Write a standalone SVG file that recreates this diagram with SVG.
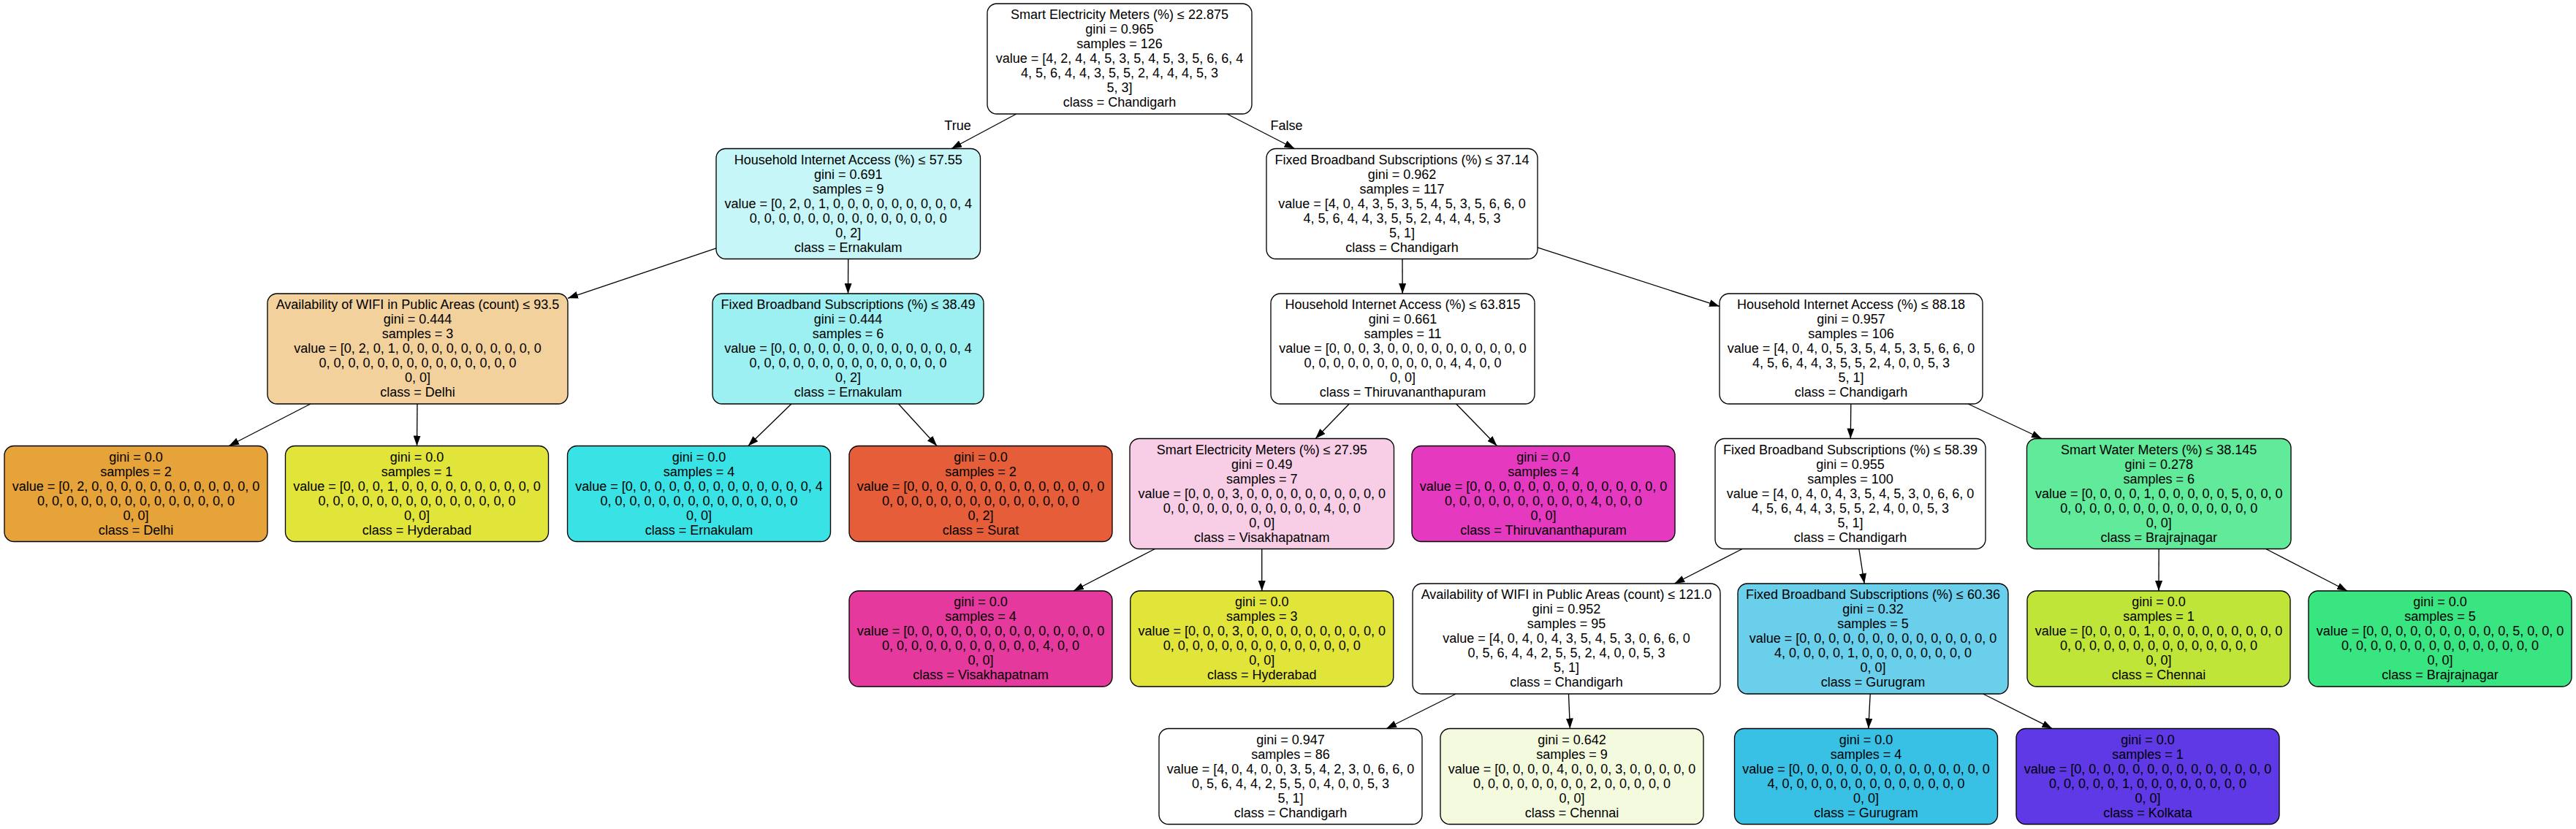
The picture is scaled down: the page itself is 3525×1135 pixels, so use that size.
<svg xmlns="http://www.w3.org/2000/svg" width="3525" height="1135" viewBox="0 0 3525 1135">
<style>
.n rect{stroke:#000;stroke-width:1.33}
text{font-family:"Liberation Sans",Arial,Helvetica,sans-serif;font-size:18px;fill:#000;text-anchor:middle}
.e line{stroke:#000;stroke-width:1.33;fill:none;marker-end:url(#ah)}
</style>
<defs>
<marker id="ah" viewBox="0 0 14 10" refX="14" refY="5" markerWidth="14" markerHeight="10" markerUnits="userSpaceOnUse" orient="auto">
<path d="M0,0 L14,5 L0,10 z" fill="#000"/>
</marker>
</defs>
<rect width="3525" height="1135" fill="#fff"/>
<g id="edges" class="e">
<line x1="1390.8" y1="156" x2="1302" y2="203.5"/>
<line x1="1679" y1="156" x2="1771.5" y2="203.5"/>
<line x1="980" y1="339.9" x2="777" y2="408.3"/>
<line x1="1160.7" y1="354.5" x2="1160.5" y2="402"/>
<line x1="424.9" y1="553" x2="313.2" y2="610.5"/>
<line x1="571" y1="553" x2="570.5" y2="610.5"/>
<line x1="1082.9" y1="553" x2="1023.8" y2="610.5"/>
<line x1="1229.5" y1="553" x2="1282.1" y2="610.5"/>
<line x1="1919" y1="354.5" x2="1919.2" y2="402"/>
<line x1="2104" y1="338.9" x2="2353" y2="419.4"/>
<line x1="1846.2" y1="553" x2="1800.1" y2="600.5"/>
<line x1="1992.7" y1="553" x2="2048.5" y2="610.5"/>
<line x1="1580.4" y1="751.5" x2="1469" y2="809"/>
<line x1="1726.75" y1="751.5" x2="1726.75" y2="809"/>
<line x1="2532.8" y1="553" x2="2532.3" y2="600.5"/>
<line x1="2693.2" y1="553" x2="2794" y2="600.5"/>
<line x1="2384.2" y1="751.5" x2="2291.3" y2="799"/>
<line x1="2543.8" y1="751.5" x2="2551.2" y2="799"/>
<line x1="1992.3" y1="950" x2="1897.2" y2="997.5"/>
<line x1="2146.5" y1="950" x2="2148.4" y2="997.5"/>
<line x1="2559.2" y1="950" x2="2556.8" y2="997.5"/>
<line x1="2713.6" y1="950" x2="2808.3" y2="997.5"/>
<line x1="2954.2" y1="751.5" x2="2954" y2="809"/>
<line x1="3100.6" y1="751.5" x2="3212" y2="809"/>
</g>
<g id="edge-labels">
<text x="1310.5" y="177.5">True</text>
<text x="1760.5" y="177.5">False</text>
</g>
<g id="n0" class="n"><rect x="1351" y="5" width="362" height="151" rx="13" fill="#ffffff"/>
<text x="1532" y="26">Smart Electricity Meters (%) ≤ 22.875<tspan x="1532" dy="20">gini = 0.965</tspan><tspan x="1532" dy="20">samples = 126</tspan><tspan x="1532" dy="20">value = [4, 2, 4, 4, 5, 3, 5, 4, 5, 3, 5, 6, 6, 4</tspan><tspan x="1532" dy="20">4, 5, 6, 4, 4, 3, 5, 5, 2, 4, 4, 4, 5, 3</tspan><tspan x="1532" dy="20">5, 3]</tspan><tspan x="1532" dy="20">class = Chandigarh</tspan></text></g>
<g id="n1" class="n"><rect x="980" y="203.5" width="361.5" height="151" rx="13" fill="#c6f6f7"/>
<text x="1160.75" y="224.5">Household Internet Access (%) ≤ 57.55<tspan x="1160.75" dy="20">gini = 0.691</tspan><tspan x="1160.75" dy="20">samples = 9</tspan><tspan x="1160.75" dy="20">value = [0, 2, 0, 1, 0, 0, 0, 0, 0, 0, 0, 0, 0, 4</tspan><tspan x="1160.75" dy="20">0, 0, 0, 0, 0, 0, 0, 0, 0, 0, 0, 0, 0, 0</tspan><tspan x="1160.75" dy="20">0, 2]</tspan><tspan x="1160.75" dy="20">class = Ernakulam</tspan></text></g>
<g id="n2" class="n"><rect x="366" y="402" width="411" height="151" rx="13" fill="#f2d19c"/>
<text x="571.5" y="423">Availability of WIFI in Public Areas (count) ≤ 93.5<tspan x="571.5" dy="20">gini = 0.444</tspan><tspan x="571.5" dy="20">samples = 3</tspan><tspan x="571.5" dy="20">value = [0, 2, 0, 1, 0, 0, 0, 0, 0, 0, 0, 0, 0, 0</tspan><tspan x="571.5" dy="20">0, 0, 0, 0, 0, 0, 0, 0, 0, 0, 0, 0, 0, 0</tspan><tspan x="571.5" dy="20">0, 0]</tspan><tspan x="571.5" dy="20">class = Delhi</tspan></text></g>
<g id="n3" class="n"><rect x="6" y="610.5" width="360" height="131" rx="13" fill="#e5a339"/>
<text x="186" y="631.5">gini = 0.0<tspan x="186" dy="20">samples = 2</tspan><tspan x="186" dy="20">value = [0, 2, 0, 0, 0, 0, 0, 0, 0, 0, 0, 0, 0, 0</tspan><tspan x="186" dy="20">0, 0, 0, 0, 0, 0, 0, 0, 0, 0, 0, 0, 0, 0</tspan><tspan x="186" dy="20">0, 0]</tspan><tspan x="186" dy="20">class = Delhi</tspan></text></g>
<g id="n4" class="n"><rect x="390.5" y="610.5" width="360" height="131" rx="13" fill="#e2e539"/>
<text x="570.5" y="631.5">gini = 0.0<tspan x="570.5" dy="20">samples = 1</tspan><tspan x="570.5" dy="20">value = [0, 0, 0, 1, 0, 0, 0, 0, 0, 0, 0, 0, 0, 0</tspan><tspan x="570.5" dy="20">0, 0, 0, 0, 0, 0, 0, 0, 0, 0, 0, 0, 0, 0</tspan><tspan x="570.5" dy="20">0, 0]</tspan><tspan x="570.5" dy="20">class = Hyderabad</tspan></text></g>
<g id="n5" class="n"><rect x="975" y="402" width="371" height="151" rx="13" fill="#9cf0f2"/>
<text x="1160.5" y="423">Fixed Broadband Subscriptions (%) ≤ 38.49<tspan x="1160.5" dy="20">gini = 0.444</tspan><tspan x="1160.5" dy="20">samples = 6</tspan><tspan x="1160.5" dy="20">value = [0, 0, 0, 0, 0, 0, 0, 0, 0, 0, 0, 0, 0, 4</tspan><tspan x="1160.5" dy="20">0, 0, 0, 0, 0, 0, 0, 0, 0, 0, 0, 0, 0, 0</tspan><tspan x="1160.5" dy="20">0, 2]</tspan><tspan x="1160.5" dy="20">class = Ernakulam</tspan></text></g>
<g id="n6" class="n"><rect x="776.5" y="610.5" width="360" height="131" rx="13" fill="#39e2e5"/>
<text x="956.5" y="631.5">gini = 0.0<tspan x="956.5" dy="20">samples = 4</tspan><tspan x="956.5" dy="20">value = [0, 0, 0, 0, 0, 0, 0, 0, 0, 0, 0, 0, 0, 4</tspan><tspan x="956.5" dy="20">0, 0, 0, 0, 0, 0, 0, 0, 0, 0, 0, 0, 0, 0</tspan><tspan x="956.5" dy="20">0, 0]</tspan><tspan x="956.5" dy="20">class = Ernakulam</tspan></text></g>
<g id="n7" class="n"><rect x="1162" y="610.5" width="360" height="131" rx="13" fill="#e55e39"/>
<text x="1342" y="631.5">gini = 0.0<tspan x="1342" dy="20">samples = 2</tspan><tspan x="1342" dy="20">value = [0, 0, 0, 0, 0, 0, 0, 0, 0, 0, 0, 0, 0, 0</tspan><tspan x="1342" dy="20">0, 0, 0, 0, 0, 0, 0, 0, 0, 0, 0, 0, 0, 0</tspan><tspan x="1342" dy="20">0, 2]</tspan><tspan x="1342" dy="20">class = Surat</tspan></text></g>
<g id="n8" class="n"><rect x="1733" y="203.5" width="371" height="151" rx="13" fill="#ffffff"/>
<text x="1918.5" y="224.5">Fixed Broadband Subscriptions (%) ≤ 37.14<tspan x="1918.5" dy="20">gini = 0.962</tspan><tspan x="1918.5" dy="20">samples = 117</tspan><tspan x="1918.5" dy="20">value = [4, 0, 4, 3, 5, 3, 5, 4, 5, 3, 5, 6, 6, 0</tspan><tspan x="1918.5" dy="20">4, 5, 6, 4, 4, 3, 5, 5, 2, 4, 4, 4, 5, 3</tspan><tspan x="1918.5" dy="20">5, 1]</tspan><tspan x="1918.5" dy="20">class = Chandigarh</tspan></text></g>
<g id="n9" class="n"><rect x="1739" y="402" width="361" height="151" rx="13" fill="#ffffff"/>
<text x="1919.5" y="423">Household Internet Access (%) ≤ 63.815<tspan x="1919.5" dy="20">gini = 0.661</tspan><tspan x="1919.5" dy="20">samples = 11</tspan><tspan x="1919.5" dy="20">value = [0, 0, 0, 3, 0, 0, 0, 0, 0, 0, 0, 0, 0, 0</tspan><tspan x="1919.5" dy="20">0, 0, 0, 0, 0, 0, 0, 0, 0, 0, 4, 4, 0, 0</tspan><tspan x="1919.5" dy="20">0, 0]</tspan><tspan x="1919.5" dy="20">class = Thiruvananthapuram</tspan></text></g>
<g id="n10" class="n"><rect x="1546" y="600.5" width="361.5" height="151" rx="13" fill="#f8cde6"/>
<text x="1726.75" y="621.5">Smart Electricity Meters (%) ≤ 27.95<tspan x="1726.75" dy="20">gini = 0.49</tspan><tspan x="1726.75" dy="20">samples = 7</tspan><tspan x="1726.75" dy="20">value = [0, 0, 0, 3, 0, 0, 0, 0, 0, 0, 0, 0, 0, 0</tspan><tspan x="1726.75" dy="20">0, 0, 0, 0, 0, 0, 0, 0, 0, 0, 0, 4, 0, 0</tspan><tspan x="1726.75" dy="20">0, 0]</tspan><tspan x="1726.75" dy="20">class = Visakhapatnam</tspan></text></g>
<g id="n11" class="n"><rect x="1162" y="809" width="360" height="131" rx="13" fill="#e5399d"/>
<text x="1342" y="830">gini = 0.0<tspan x="1342" dy="20">samples = 4</tspan><tspan x="1342" dy="20">value = [0, 0, 0, 0, 0, 0, 0, 0, 0, 0, 0, 0, 0, 0</tspan><tspan x="1342" dy="20">0, 0, 0, 0, 0, 0, 0, 0, 0, 0, 0, 4, 0, 0</tspan><tspan x="1342" dy="20">0, 0]</tspan><tspan x="1342" dy="20">class = Visakhapatnam</tspan></text></g>
<g id="n12" class="n"><rect x="1546.75" y="809" width="360" height="131" rx="13" fill="#e2e539"/>
<text x="1726.75" y="830">gini = 0.0<tspan x="1726.75" dy="20">samples = 3</tspan><tspan x="1726.75" dy="20">value = [0, 0, 0, 3, 0, 0, 0, 0, 0, 0, 0, 0, 0, 0</tspan><tspan x="1726.75" dy="20">0, 0, 0, 0, 0, 0, 0, 0, 0, 0, 0, 0, 0, 0</tspan><tspan x="1726.75" dy="20">0, 0]</tspan><tspan x="1726.75" dy="20">class = Hyderabad</tspan></text></g>
<g id="n13" class="n"><rect x="1932" y="610.5" width="360" height="131" rx="13" fill="#e539c0"/>
<text x="2112" y="631.5">gini = 0.0<tspan x="2112" dy="20">samples = 4</tspan><tspan x="2112" dy="20">value = [0, 0, 0, 0, 0, 0, 0, 0, 0, 0, 0, 0, 0, 0</tspan><tspan x="2112" dy="20">0, 0, 0, 0, 0, 0, 0, 0, 0, 0, 4, 0, 0, 0</tspan><tspan x="2112" dy="20">0, 0]</tspan><tspan x="2112" dy="20">class = Thiruvananthapuram</tspan></text></g>
<g id="n14" class="n"><rect x="2353" y="402" width="360" height="151" rx="13" fill="#ffffff"/>
<text x="2533" y="423">Household Internet Access (%) ≤ 88.18<tspan x="2533" dy="20">gini = 0.957</tspan><tspan x="2533" dy="20">samples = 106</tspan><tspan x="2533" dy="20">value = [4, 0, 4, 0, 5, 3, 5, 4, 5, 3, 5, 6, 6, 0</tspan><tspan x="2533" dy="20">4, 5, 6, 4, 4, 3, 5, 5, 2, 4, 0, 0, 5, 3</tspan><tspan x="2533" dy="20">5, 1]</tspan><tspan x="2533" dy="20">class = Chandigarh</tspan></text></g>
<g id="n15" class="n"><rect x="2347" y="600.5" width="370" height="151" rx="13" fill="#ffffff"/>
<text x="2532" y="621.5">Fixed Broadband Subscriptions (%) ≤ 58.39<tspan x="2532" dy="20">gini = 0.955</tspan><tspan x="2532" dy="20">samples = 100</tspan><tspan x="2532" dy="20">value = [4, 0, 4, 0, 4, 3, 5, 4, 5, 3, 0, 6, 6, 0</tspan><tspan x="2532" dy="20">4, 5, 6, 4, 4, 3, 5, 5, 2, 4, 0, 0, 5, 3</tspan><tspan x="2532" dy="20">5, 1]</tspan><tspan x="2532" dy="20">class = Chandigarh</tspan></text></g>
<g id="n16" class="n"><rect x="1933" y="799" width="421" height="151" rx="13" fill="#ffffff"/>
<text x="2143.5" y="820">Availability of WIFI in Public Areas (count) ≤ 121.0<tspan x="2143.5" dy="20">gini = 0.952</tspan><tspan x="2143.5" dy="20">samples = 95</tspan><tspan x="2143.5" dy="20">value = [4, 0, 4, 0, 4, 3, 5, 4, 5, 3, 0, 6, 6, 0</tspan><tspan x="2143.5" dy="20">0, 5, 6, 4, 4, 2, 5, 5, 2, 4, 0, 0, 5, 3</tspan><tspan x="2143.5" dy="20">5, 1]</tspan><tspan x="2143.5" dy="20">class = Chandigarh</tspan></text></g>
<g id="n17" class="n"><rect x="1586" y="997.5" width="360" height="131" rx="13" fill="#ffffff"/>
<text x="1766" y="1018.5">gini = 0.947<tspan x="1766" dy="20">samples = 86</tspan><tspan x="1766" dy="20">value = [4, 0, 4, 0, 0, 3, 5, 4, 2, 3, 0, 6, 6, 0</tspan><tspan x="1766" dy="20">0, 5, 6, 4, 4, 2, 5, 5, 0, 4, 0, 0, 5, 3</tspan><tspan x="1766" dy="20">5, 1]</tspan><tspan x="1766" dy="20">class = Chandigarh</tspan></text></g>
<g id="n18" class="n"><rect x="1971" y="997.5" width="360" height="131" rx="13" fill="#f4fade"/>
<text x="2151" y="1018.5">gini = 0.642<tspan x="2151" dy="20">samples = 9</tspan><tspan x="2151" dy="20">value = [0, 0, 0, 0, 4, 0, 0, 0, 3, 0, 0, 0, 0, 0</tspan><tspan x="2151" dy="20">0, 0, 0, 0, 0, 0, 0, 0, 2, 0, 0, 0, 0, 0</tspan><tspan x="2151" dy="20">0, 0]</tspan><tspan x="2151" dy="20">class = Chennai</tspan></text></g>
<g id="n19" class="n"><rect x="2378" y="799" width="370" height="151" rx="13" fill="#6acfeb"/>
<text x="2563" y="820">Fixed Broadband Subscriptions (%) ≤ 60.36<tspan x="2563" dy="20">gini = 0.32</tspan><tspan x="2563" dy="20">samples = 5</tspan><tspan x="2563" dy="20">value = [0, 0, 0, 0, 0, 0, 0, 0, 0, 0, 0, 0, 0, 0</tspan><tspan x="2563" dy="20">4, 0, 0, 0, 0, 1, 0, 0, 0, 0, 0, 0, 0, 0</tspan><tspan x="2563" dy="20">0, 0]</tspan><tspan x="2563" dy="20">class = Gurugram</tspan></text></g>
<g id="n20" class="n"><rect x="2373.5" y="997.5" width="360" height="131" rx="13" fill="#39c0e5"/>
<text x="2553.5" y="1018.5">gini = 0.0<tspan x="2553.5" dy="20">samples = 4</tspan><tspan x="2553.5" dy="20">value = [0, 0, 0, 0, 0, 0, 0, 0, 0, 0, 0, 0, 0, 0</tspan><tspan x="2553.5" dy="20">4, 0, 0, 0, 0, 0, 0, 0, 0, 0, 0, 0, 0, 0</tspan><tspan x="2553.5" dy="20">0, 0]</tspan><tspan x="2553.5" dy="20">class = Gurugram</tspan></text></g>
<g id="n21" class="n"><rect x="2759" y="997.5" width="360" height="131" rx="13" fill="#5e39e5"/>
<text x="2939" y="1018.5">gini = 0.0<tspan x="2939" dy="20">samples = 1</tspan><tspan x="2939" dy="20">value = [0, 0, 0, 0, 0, 0, 0, 0, 0, 0, 0, 0, 0, 0</tspan><tspan x="2939" dy="20">0, 0, 0, 0, 0, 1, 0, 0, 0, 0, 0, 0, 0, 0</tspan><tspan x="2939" dy="20">0, 0]</tspan><tspan x="2939" dy="20">class = Kolkata</tspan></text></g>
<g id="n22" class="n"><rect x="2773.5" y="600.5" width="361.5" height="151" rx="13" fill="#60ea9a"/>
<text x="2954.25" y="621.5">Smart Water Meters (%) ≤ 38.145<tspan x="2954.25" dy="20">gini = 0.278</tspan><tspan x="2954.25" dy="20">samples = 6</tspan><tspan x="2954.25" dy="20">value = [0, 0, 0, 0, 1, 0, 0, 0, 0, 0, 5, 0, 0, 0</tspan><tspan x="2954.25" dy="20">0, 0, 0, 0, 0, 0, 0, 0, 0, 0, 0, 0, 0, 0</tspan><tspan x="2954.25" dy="20">0, 0]</tspan><tspan x="2954.25" dy="20">class = Brajrajnagar</tspan></text></g>
<g id="n23" class="n"><rect x="2774" y="809" width="360" height="131" rx="13" fill="#c0e539"/>
<text x="2954" y="830">gini = 0.0<tspan x="2954" dy="20">samples = 1</tspan><tspan x="2954" dy="20">value = [0, 0, 0, 0, 1, 0, 0, 0, 0, 0, 0, 0, 0, 0</tspan><tspan x="2954" dy="20">0, 0, 0, 0, 0, 0, 0, 0, 0, 0, 0, 0, 0, 0</tspan><tspan x="2954" dy="20">0, 0]</tspan><tspan x="2954" dy="20">class = Chennai</tspan></text></g>
<g id="n24" class="n"><rect x="3159" y="809" width="360" height="131" rx="13" fill="#39e581"/>
<text x="3339" y="830">gini = 0.0<tspan x="3339" dy="20">samples = 5</tspan><tspan x="3339" dy="20">value = [0, 0, 0, 0, 0, 0, 0, 0, 0, 0, 5, 0, 0, 0</tspan><tspan x="3339" dy="20">0, 0, 0, 0, 0, 0, 0, 0, 0, 0, 0, 0, 0, 0</tspan><tspan x="3339" dy="20">0, 0]</tspan><tspan x="3339" dy="20">class = Brajrajnagar</tspan></text></g>
</svg>
